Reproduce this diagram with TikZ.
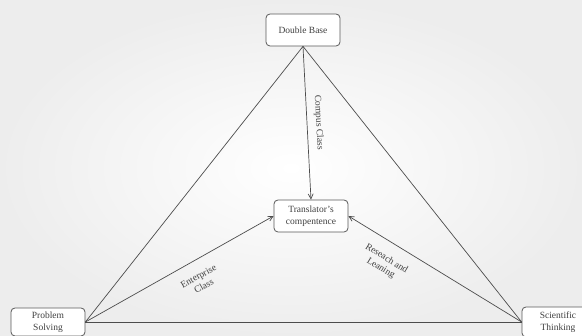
\documentclass[tikz,border=0pt]{standalone}
\usepackage{fontspec}
\setmainfont{Liberation Serif}
\usetikzlibrary{arrows.meta}

\tikzset{
  box/.style={draw=gray!70!black, line width=0.8pt, rounded corners=4pt, fill=white,
    align=center, inner sep=0pt, minimum width=74pt, minimum height=32pt,
    font=\fontsize{9.5}{12}\selectfont, text=black!75},
  link/.style={draw=black!70, line width=0.7pt},
  arr/.style={link, -{Straight Barb[length=5pt, width=5pt]}},
  lbl/.style={font=\fontsize{9.5}{11}\selectfont, text=black!75, align=center, inner sep=1pt}
}

\begin{document}
\begin{tikzpicture}[x=1pt, y=-1pt]
% Frame
\useasboundingbox (0,0) rectangle (582,336);
\shade[inner color=white, outer color=gray!14] (0,0) rectangle (582,336);

% Boxes
\node[box] (db) at (303,30) {Double Base};
\node[box] (tc) at (311,216) {Translator's\\compentence};
\node[box, minimum height=28pt] (ps) at (48,322) {Problem\\Solving};
\node[box, minimum width=72pt, minimum height=30pt] (st) at (558,322) {Scientific\\Thinking};

% Outer triangle
\draw[link] (db.south) -- (ps.east);
\draw[link] (db.south) -- (st.west);
\draw[link] (ps.east) -- (st.west);

% Arrows to the centre
\draw[arr] (db.south) -- (tc.north) node[lbl, pos=0.5, sloped, above=6pt] {Compus Class};
\draw[arr] (ps.east) -- (tc.west) node[lbl, pos=0.56, sloped, below=11pt] {Enterprise\\Class};
\draw[arr] (st.west) -- (tc.east) node[lbl, pos=0.73, sloped, below=11pt] {Reseach and\\Leaning};
\end{tikzpicture}
\end{document}
